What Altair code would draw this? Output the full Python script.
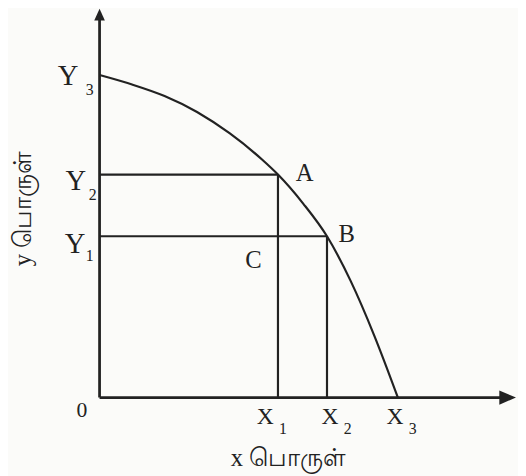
import altair as alt
import pandas as pd

# ---- data (in chart units; origin = 0) ----
curve_x = [0, 11.0, 22.0, 33.0, 44.0, 55.0, 60.4, 69.0, 77.0, 85.0, 93.0, 101.0]
curve_y = [109.2, 106.0, 102.1, 96.7, 89.5, 80.6, 75.5, 65.6, 54.6, 39.5, 21.0, 0]

x_names = ["X1", "X2", "X3"]
x_vals = [60.4, 77.0, 101.0]
y_names = ["Y1", "Y2", "Y3"]
y_vals = [54.6, 75.5, 109.2]

point_names = ["A", "B"]
point_x = [60.4, 77.0]
point_y = [75.5, 54.6]

axis_x_end = 136.5
axis_y_end = 128.3
x_title = "x பொருள்"
y_title = "y பொருள்"

# ---- styles ----
INK = "#222222"
SERIF = "Liberation Serif"
XS = alt.Scale(domain=[-31, 139], nice=False, zero=False)
YS = alt.Scale(domain=[-22.667, 130.667], nice=False, zero=False)

def enc(chart, xf="x", yf="y"):
    return chart.encode(
        x=alt.X(f"{xf}:Q", scale=XS, axis=None),
        y=alt.Y(f"{yf}:Q", scale=YS, axis=None),
    )

curve_df = pd.DataFrame({"x": curve_x, "y": curve_y, "o": range(len(curve_x))})
curve = alt.Chart(curve_df).mark_line(color=INK, strokeWidth=2.2, interpolate="monotone").encode(
    x=alt.X("x:Q", scale=XS, axis=None),
    y=alt.Y("y:Q", scale=YS, axis=None),
    order="o:Q",
)

# guide lines from the axes to A and B
seg_rows = []
for px, py in zip(point_x, point_y):
    seg_rows.append({"x": 0, "x2": px, "y": py, "y2": py})
    seg_rows.append({"x": px, "x2": px, "y": 0, "y2": py})
seg_df = pd.DataFrame(seg_rows)
guides = alt.Chart(seg_df).mark_rule(color=INK, strokeWidth=2.2).encode(
    x=alt.X("x:Q", scale=XS, axis=None), x2="x2:Q",
    y=alt.Y("y:Q", scale=YS, axis=None), y2="y2:Q",
)

axes_df = pd.DataFrame([
    {"x": 0, "x2": axis_x_end, "y": 0, "y2": 0},
    {"x": 0, "x2": 0, "y": 0, "y2": axis_y_end},
])
axes = alt.Chart(axes_df).mark_rule(color=INK, strokeWidth=2.8).encode(
    x=alt.X("x:Q", scale=XS, axis=None), x2="x2:Q",
    y=alt.Y("y:Q", scale=YS, axis=None), y2="y2:Q",
)

arrow_up = enc(alt.Chart(pd.DataFrame({"x": [0], "y": [axis_y_end]})).mark_point(
    shape="M0,-1L0.9,1L-0.9,1Z", size=144, filled=True, opacity=1, color=INK, yOffset=-4))
arrow_right = enc(alt.Chart(pd.DataFrame({"x": [axis_x_end], "y": [0]})).mark_point(
    shape="M1,0L-1,0.85L-1,-0.85Z", size=289, filled=True, opacity=1, color=INK, xOffset=5))

def label(text, ax, ay, dx, dy, size):
    df = pd.DataFrame({"x": [ax], "y": [ay], "t": [text]})
    return enc(alt.Chart(df).mark_text(
        dx=dx, dy=dy, fontSize=size, font=SERIF, color=INK,
        align="center", baseline="alphabetic")).encode(text="t:N")

# label offsets (pixels) – styling only
x_main_dx = {"X1": -13, "X2": 3, "X3": -3}
y_main = {"Y1": (-25, 16.5), "Y2": (-24, 16), "Y3": (-32, 10)}
y_sub = {"Y1": (-10, 25.5), "Y2": (-7, 26), "Y3": (-10, 20.5)}

layers = [axes, guides, curve, arrow_up, arrow_right]
for n, v in zip(x_names, x_vals):
    layers.append(label(n[0], v, 0, x_main_dx[n], 27, 24))
    layers.append(label(n[1], v, 0, x_main_dx[n] + 18, 37, 16))
for n, v in zip(y_names, y_vals):
    layers.append(label(n[0], 0, v, y_main[n][0], y_main[n][1], 29))
    layers.append(label(n[1], 0, v, y_sub[n][0], y_sub[n][1], 16))
layers.append(label("0", 0, 0, -18, 20, 22))
layers.append(label(point_names[0], point_x[0], point_y[0], 27, 6.5, 25))
layers.append(label(point_names[1], point_x[1], point_y[1], 20, 6, 25))
layers.append(label("C", point_x[0], point_y[1], -25, 32, 25))

xt = alt.Chart(pd.DataFrame({"t": [x_title]})).mark_text(
    fontSize=25, font=SERIF, color=INK, align="center", baseline="alphabetic"
).encode(text="t:N", x=alt.value(285), y=alt.value(462))
yt = alt.Chart(pd.DataFrame({"t": [y_title]})).mark_text(
    fontSize=25, font=SERIF, color=INK, align="center", baseline="middle", angle=270
).encode(text="t:N", x=alt.value(15), y=alt.value(200))
layers += [xt, yt]

chart = alt.layer(*layers).properties(
    width=510, height=460,
    autosize=alt.AutoSizeParams(type="none"),
    padding={"left": 0, "top": 0, "right": 8, "bottom": 8},
    background="#fbfbf9",
).configure_view(stroke=None)

chart.save("out.html", embed_options={"renderer": "svg", "actions": False})
